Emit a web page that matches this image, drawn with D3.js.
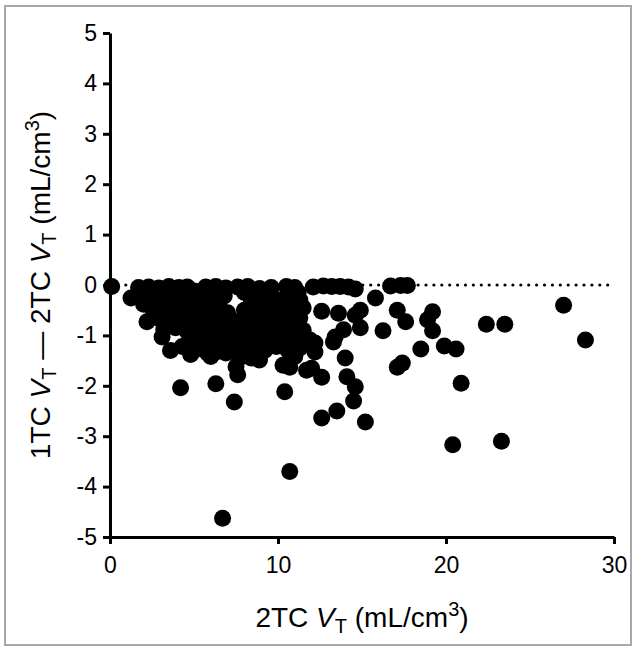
<!DOCTYPE html>
<html>
<head>
<meta charset="utf-8">
<script src="https://cdn.jsdelivr.net/npm/d3@7"></script>
<style>
  body { margin: 0; background: #fff; }
  text { font-family: "Liberation Sans", Arial, sans-serif; fill: #000; }
</style>
</head>
<body>
<svg id="chart" width="637" height="650"></svg>
<script>
// 2TC VT (x) vs 1TC VT - 2TC VT (y)
const points = [
  // along zero
  [0.1, -0.03], [1.7, -0.05], [2.3, -0.04], [2.9, -0.06], [3.5, -0.03], [4.1, -0.05], [4.6, -0.04],
  [5.7, -0.04], [6.3, -0.03], [6.9, -0.06], [7.6, -0.04], [8.2, -0.03], [8.9, -0.07], [9.6, -0.05],
  [10.5, -0.03], [11.0, -0.05], [12.1, -0.04], [12.7, -0.02], [13.2, -0.03], [13.7, -0.03],
  [14.2, -0.04], [14.6, -0.08], [16.7, -0.02], [17.3, -0.01], [17.7, -0.01],
  [1.25, -0.26],
  // main cluster
  [2.0, -0.15], [2.0, -0.38], [2.6, -0.12], [3.2, -0.35], [3.9, -0.15], [4.4, -0.36], [5.0, -0.12],
  [5.6, -0.36], [6.4, -0.15], [8.0, -0.15], [8.7, -0.35], [9.5, -0.15], [10.2, -0.3], [11.2, -0.15],
  [2.1, -0.22], [2.7, -0.28], [3.3, -0.2], [4.0, -0.3], [4.8, -0.25], [5.4, -0.2], [6.1, -0.3],
  [6.8, -0.22], [8.4, -0.28], [9.2, -0.22], [9.9, -0.3], [10.6, -0.2], [11.3, -0.3],
  [2.5, -0.45], [3.1, -0.5], [3.8, -0.42], [4.5, -0.52], [5.2, -0.45], [5.9, -0.5], [6.5, -0.42],
  [8.0, -0.5], [8.8, -0.45], [9.5, -0.52], [10.2, -0.42], [10.9, -0.5], [11.5, -0.45],
  [2.6, -0.6], [3.4, -0.78], [4.1, -0.55], [4.8, -0.8], [5.5, -0.55], [6.2, -0.78], [7.0, -0.55],
  [7.6, -0.8], [8.3, -0.55], [9.0, -0.8], [9.7, -0.58], [10.5, -0.8], [11.1, -0.58],
  [2.2, -0.73], [3.0, -0.68], [3.7, -0.62], [4.4, -0.7], [5.1, -0.65], [5.8, -0.72], [6.5, -0.63],
  [7.2, -0.7], [7.9, -0.68], [8.6, -0.62], [9.3, -0.72], [10.0, -0.66], [10.7, -0.72], [11.3, -0.65],
  [3.2, -0.88], [3.9, -0.85], [4.6, -0.92], [5.3, -0.86], [6.0, -0.9], [6.7, -0.84], [7.4, -0.92],
  [8.1, -0.86], [8.8, -0.9], [9.5, -0.84], [10.2, -0.92], [10.9, -0.87], [11.5, -0.9],
  [5.0, -0.98], [5.7, -1.15], [6.3, -0.95], [7.0, -1.15], [7.7, -0.97], [8.4, -1.15], [9.1, -0.95],
  [9.8, -1.15], [10.5, -0.98], [11.2, -1.05],
  [3.1, -1.03], [4.8, -1.05], [5.4, -1.1], [5.9, -1.02], [6.6, -1.08], [7.3, -1.04], [8.0, -1.1],
  [8.7, -1.02], [9.4, -1.08], [10.1, -1.05], [10.8, -1.1], [11.9, -1.09], [12.2, -1.15],
  [3.6, -1.3], [4.3, -1.22], [5.0, -1.3], [5.7, -1.25], [6.4, -1.32], [7.1, -1.22], [7.8, -1.3],
  [8.5, -1.25], [9.2, -1.3], [9.9, -1.22], [10.6, -1.3], [11.3, -1.25], [12.2, -1.33],
  [4.8, -1.38], [5.8, -1.35], [6.0, -1.42], [6.9, -1.35], [7.7, -1.45], [8.4, -1.45], [8.9, -1.49],
  [11.0, -1.42], [10.3, -1.59], [11.7, -1.69], [10.7, -1.63], [7.5, -1.62], [7.6, -1.78],
  // scattered
  [4.2, -2.04], [6.3, -1.96], [7.4, -2.32], [10.4, -2.12], [6.7, -4.63], [10.7, -3.7],
  [12.0, -1.65], [12.6, -1.83], [14.1, -1.82], [14.6, -2.02], [14.5, -2.3], [13.5, -2.5],
  [12.6, -2.64], [15.2, -2.72], [14.0, -1.45], [13.4, -1.03], [13.3, -1.13], [13.9, -0.89],
  [14.9, -0.85], [14.9, -0.5], [14.6, -0.6], [13.6, -0.56], [12.6, -0.52], [15.8, -0.26],
  [16.25, -0.91], [17.1, -0.5], [17.6, -0.73], [17.1, -1.63], [17.4, -1.55],
  [18.5, -1.27], [19.9, -1.21], [20.6, -1.27], [20.9, -1.95], [19.2, -0.53], [18.9, -0.69],
  [19.2, -0.91], [22.4, -0.78], [23.5, -0.78], [27.0, -0.4], [28.3, -1.09], [20.4, -3.17], [23.3, -3.1]
];

const xDomain = [0, 30];
const yDomain = [-5, 5];
const xTicks = [0, 10, 20, 30];
const yTicks = [-5, -4, -3, -2, -1, 0, 1, 2, 3, 4, 5];
const zeroLineEnd = 29.8;

const margin = { left: 110, top: 33 };
const size = 504;

const svg = d3.select('#chart');

// light frame round the figure
svg.append('rect')
  .attr('x', 5).attr('y', 6)
  .attr('width', 626).attr('height', 639)
  .attr('fill', 'none')
  .attr('stroke', '#a8a8a8')
  .attr('stroke-width', 2);

const x = d3.scaleLinear().domain(xDomain).range([margin.left, margin.left + size]);
const y = d3.scaleLinear().domain(yDomain).range([margin.top + size, margin.top]);

// dotted zero line
svg.append('line')
  .attr('x1', x(0)).attr('x2', x(zeroLineEnd))
  .attr('y1', y(0)).attr('y2', y(0))
  .attr('stroke', '#000')
  .attr('stroke-width', 3.2)
  .attr('stroke-linecap', 'round')
  .attr('stroke-dasharray', '0 7.9');

svg.append('g')
  .selectAll('circle')
  .data(points)
  .join('circle')
  .attr('cx', d => x(d[0]))
  .attr('cy', d => y(d[1]))
  .attr('r', 8.5)
  .attr('fill', '#000');

const plainNum = d => String(d);

const xAxis = svg.append('g')
  .attr('transform', `translate(0,${margin.top + size})`)
  .call(d3.axisBottom(x).tickValues(xTicks).tickFormat(plainNum)
    .tickSize(7).tickSizeOuter(0).tickPadding(13));

const yAxis = svg.append('g')
  .attr('transform', `translate(${margin.left},0)`)
  .call(d3.axisLeft(y).tickValues(yTicks).tickFormat(plainNum)
    .tickSize(7).tickSizeOuter(0).tickPadding(6));

[xAxis, yAxis].forEach(g => {
  g.select('.domain').attr('stroke', '#000').attr('stroke-width', 3);
  g.selectAll('.tick line').attr('stroke', '#000').attr('stroke-width', 3);
  g.selectAll('.tick text')
    .attr('font-size', 23)
    .attr('font-family', '"Liberation Sans", Arial, sans-serif')
    .attr('fill', '#000');
});

// axis titles
function vtTitle(sel, parts) {
  parts.forEach(p => {
    const t = sel.append('tspan').text(p.t);
    if (p.italic) t.attr('font-style', 'italic');
    if (p.size) t.attr('font-size', p.size);
    if (p.dy) t.attr('dy', p.dy);
  });
}

const xt = svg.append('text')
  .attr('x', x(15))
  .attr('y', 627)
  .attr('text-anchor', 'middle')
  .attr('font-size', 28);
vtTitle(xt, [
  { t: '2TC ' }, { t: 'V', italic: true }, { t: 'T', size: 20, dy: 6 },
  { t: ' (mL/cm', dy: -6 }, { t: '3', size: 20, dy: -11 }, { t: ')', dy: 11 }
]);

const yt = svg.append('text')
  .attr('transform', `translate(50,${y(0)}) rotate(-90)`)
  .attr('text-anchor', 'middle')
  .attr('font-size', 28);
vtTitle(yt, [
  { t: '1TC ' }, { t: 'V', italic: true }, { t: 'T', size: 20, dy: 6 },
  { t: ' \u2014 2TC ', dy: -6 }, { t: 'V', italic: true }, { t: 'T', size: 20, dy: 6 },
  { t: ' (mL/cm', dy: -6 }, { t: '3', size: 20, dy: -11 }, { t: ')', dy: 11 }
]);
</script>
</body>
</html>
